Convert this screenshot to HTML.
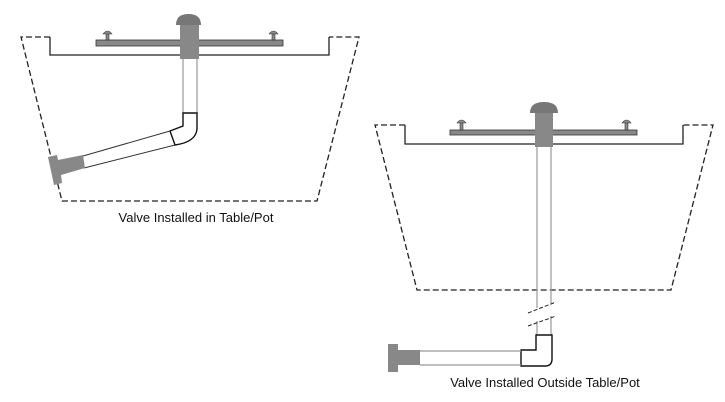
<!DOCTYPE html>
<html><head><style>
html,body{margin:0;padding:0;background:#fff;}
svg{display:block;}
text{font-family:"Liberation Sans",sans-serif;font-size:13px;fill:#111;}
</style></head><body>
<svg width="725" height="402" viewBox="0 0 725 402" xmlns="http://www.w3.org/2000/svg">
<!-- LEFT -->
<g fill="none" stroke="#222" stroke-width="1.3">
<path d="M50,37 H21 L62,201 H317 L359,37 H329" stroke-dasharray="6,3"/>
<path d="M50,37 V55 H329 V37"/>
</g>
<rect x="96" y="40" width="187" height="6" fill="#888" stroke="#333" stroke-width="0.8"/>
<g fill="#888" stroke="#333" stroke-width="0.6">
<rect x="106" y="33" width="3" height="7"/><path d="M103,34 Q107.5,28 112,34 Z"/>
<rect x="272" y="33" width="3" height="7"/><path d="M269,34 Q273.5,28 278,34 Z"/>
</g>
<path d="M176,25 Q176,14 188.5,14 Q201,14 201,25 Z" fill="#777"/>
<rect x="180" y="25" width="19" height="34" fill="#888"/>
<g stroke="#999" stroke-width="1.2"><line x1="183" y1="59" x2="183" y2="113"/><line x1="197" y1="59" x2="197" y2="113"/></g>
<path d="M183,113 H197 V129 Q196,142 175,145 L170,131 L183,126 Z" fill="#fff" stroke="#111" stroke-width="1.4"/>
<g stroke="#333" stroke-width="1"><line x1="170" y1="131" x2="83" y2="156"/><line x1="175" y1="145" x2="84" y2="168"/></g>
<path d="M48,157 L57,155 L58,160 L83,155 L85,168 L61,175 L62,183 L54,185 Z" fill="#888"/>
<text x="196" y="222" text-anchor="middle">Valve Installed in Table/Pot</text>
<!-- RIGHT -->
<g fill="none" stroke="#222" stroke-width="1.3">
<path d="M405,125 H375 L417,290 H671 L713,125 H683" stroke-dasharray="6,3"/>
<path d="M405,125 V144 H683 V125"/>
</g>
<rect x="450" y="130" width="187" height="5" fill="#888" stroke="#333" stroke-width="0.8"/>
<g fill="#888" stroke="#333" stroke-width="0.6">
<rect x="460" y="122" width="3" height="8"/><path d="M457,123 Q461.5,117 466,123 Z"/>
<rect x="625" y="122" width="3" height="8"/><path d="M622,123 Q626.5,117 631,123 Z"/>
</g>
<path d="M530,113 Q530,102 544,102 Q558,102 558,113 Z" fill="#777"/>
<rect x="535" y="113" width="18" height="34" fill="#888"/>
<g stroke="#999" stroke-width="1.2"><line x1="537" y1="147" x2="537" y2="308"/><line x1="551" y1="147" x2="551" y2="303"/><line x1="537" y1="321" x2="537" y2="335"/><line x1="551" y1="316" x2="551" y2="335"/></g>
<g stroke="#222" stroke-width="1" stroke-dasharray="4,2"><line x1="528" y1="313" x2="556" y2="302"/><line x1="528" y1="326" x2="556" y2="316"/></g>
<path d="M536,335 H552 V359 Q552,366 545,366 H521 V350 H536 Z" fill="#fff" stroke="#111" stroke-width="1.4"/>
<g stroke="#999" stroke-width="1.2"><line x1="420" y1="351" x2="521" y2="351"/><line x1="420" y1="365" x2="521" y2="365"/></g>
<path d="M388,344 H398 V350 H420 V365 H398 V372 H388 Z" fill="#888"/>
<text x="545" y="387" text-anchor="middle">Valve Installed Outside Table/Pot</text>
</svg>
</body></html>
